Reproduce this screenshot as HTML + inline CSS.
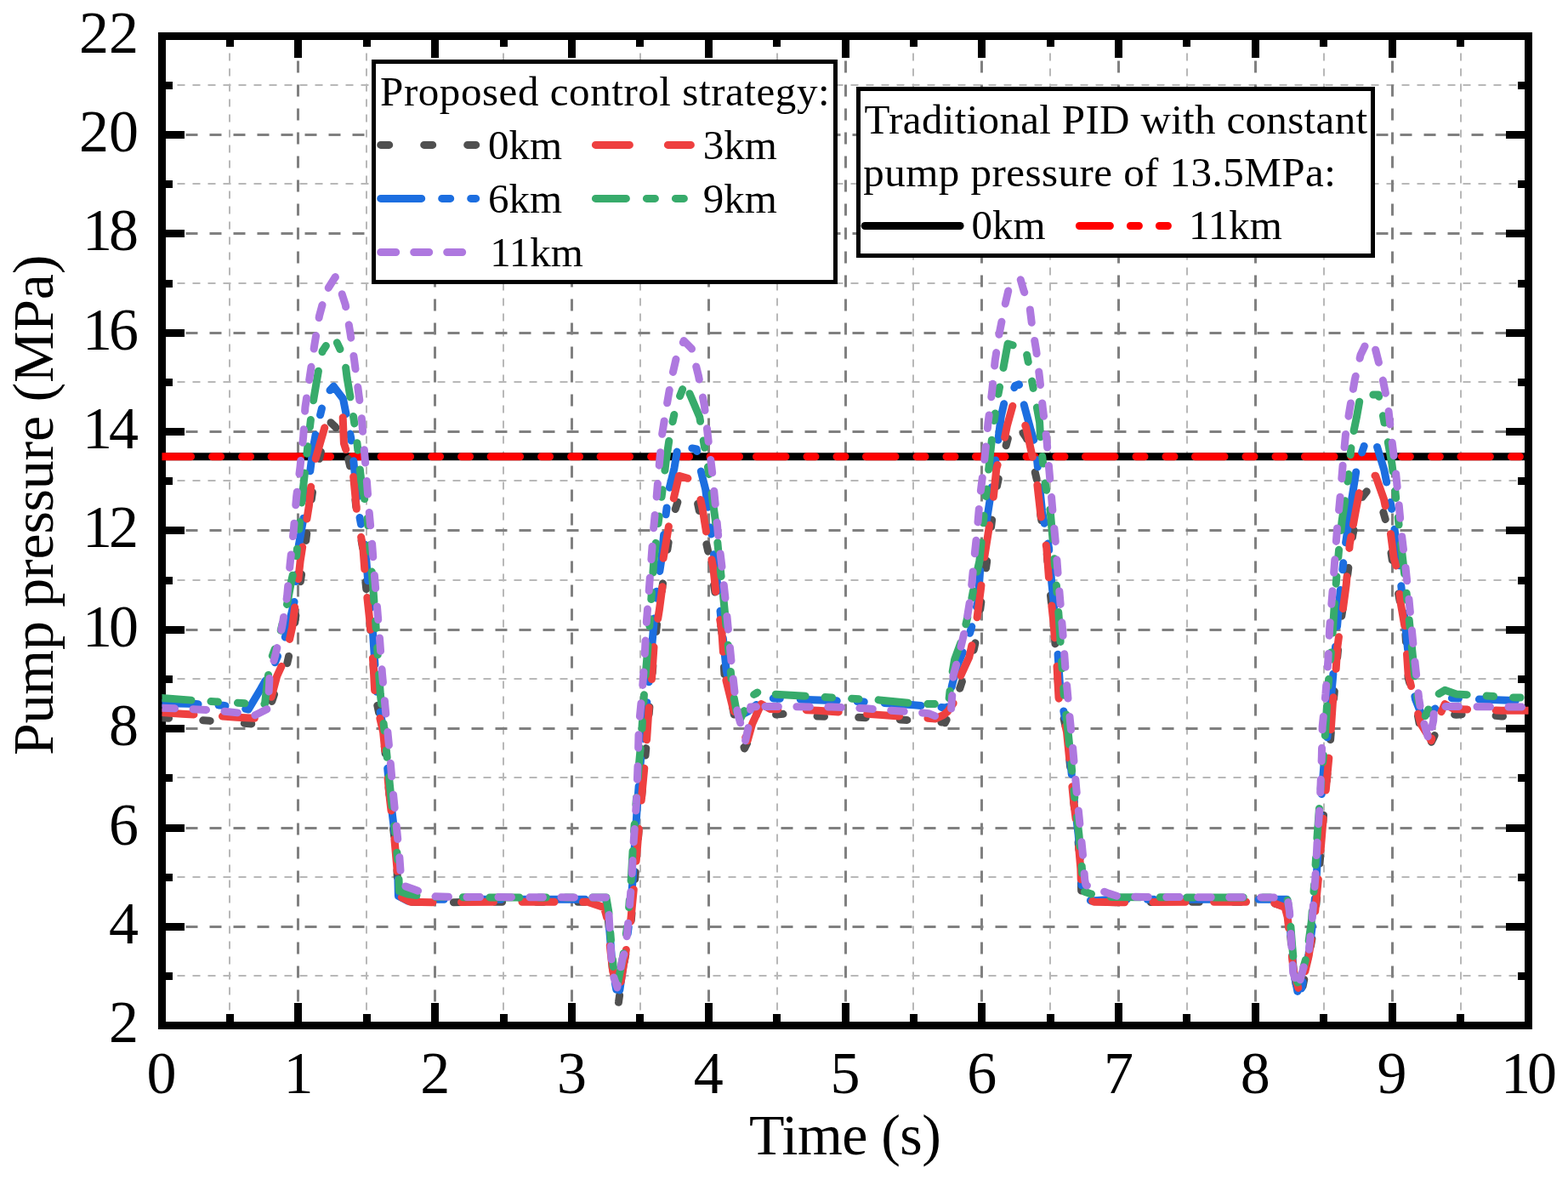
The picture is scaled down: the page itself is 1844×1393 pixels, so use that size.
<!DOCTYPE html>
<html><head><meta charset="utf-8"><title>Pump pressure</title>
<style>
html,body{margin:0;padding:0;background:#fff;width:1844px;height:1393px;overflow:hidden}
svg{display:block}
.tl{font-family:'Liberation Serif','Times New Roman',serif;font-size:70px;fill:#000}
.tt{font-family:'Liberation Serif','Times New Roman',serif;font-size:68px;fill:#000}
.lg{font-family:'Liberation Serif','Times New Roman',serif;font-size:49px;fill:#000}
</style></head><body>
<svg width="1844" height="1393" viewBox="0 0 1844 1393">
<rect width="1844" height="1393" fill="#fff"/>
<g id="grid">
<line x1="270" y1="1205.5" x2="270" y2="42.5" stroke="#b8b8b8" stroke-width="2" stroke-dasharray="9 9"/>
<line x1="431" y1="1205.5" x2="431" y2="42.5" stroke="#b8b8b8" stroke-width="2" stroke-dasharray="9 9"/>
<line x1="592" y1="1205.5" x2="592" y2="42.5" stroke="#b8b8b8" stroke-width="2" stroke-dasharray="9 9"/>
<line x1="753" y1="1205.5" x2="753" y2="42.5" stroke="#b8b8b8" stroke-width="2" stroke-dasharray="9 9"/>
<line x1="914" y1="1205.5" x2="914" y2="42.5" stroke="#b8b8b8" stroke-width="2" stroke-dasharray="9 9"/>
<line x1="1074" y1="1205.5" x2="1074" y2="42.5" stroke="#b8b8b8" stroke-width="2" stroke-dasharray="9 9"/>
<line x1="1235" y1="1205.5" x2="1235" y2="42.5" stroke="#b8b8b8" stroke-width="2" stroke-dasharray="9 9"/>
<line x1="1396" y1="1205.5" x2="1396" y2="42.5" stroke="#b8b8b8" stroke-width="2" stroke-dasharray="9 9"/>
<line x1="1557" y1="1205.5" x2="1557" y2="42.5" stroke="#b8b8b8" stroke-width="2" stroke-dasharray="9 9"/>
<line x1="1718" y1="1205.5" x2="1718" y2="42.5" stroke="#b8b8b8" stroke-width="2" stroke-dasharray="9 9"/>
<line x1="190.5" y1="1147" x2="1797.5" y2="1147" stroke="#b8b8b8" stroke-width="2" stroke-dasharray="9 9"/>
<line x1="190.5" y1="1031" x2="1797.5" y2="1031" stroke="#b8b8b8" stroke-width="2" stroke-dasharray="9 9"/>
<line x1="190.5" y1="914" x2="1797.5" y2="914" stroke="#b8b8b8" stroke-width="2" stroke-dasharray="9 9"/>
<line x1="190.5" y1="798" x2="1797.5" y2="798" stroke="#b8b8b8" stroke-width="2" stroke-dasharray="9 9"/>
<line x1="190.5" y1="682" x2="1797.5" y2="682" stroke="#b8b8b8" stroke-width="2" stroke-dasharray="9 9"/>
<line x1="190.5" y1="565" x2="1797.5" y2="565" stroke="#b8b8b8" stroke-width="2" stroke-dasharray="9 9"/>
<line x1="190.5" y1="449" x2="1797.5" y2="449" stroke="#b8b8b8" stroke-width="2" stroke-dasharray="9 9"/>
<line x1="190.5" y1="333" x2="1797.5" y2="333" stroke="#b8b8b8" stroke-width="2" stroke-dasharray="9 9"/>
<line x1="190.5" y1="216" x2="1797.5" y2="216" stroke="#b8b8b8" stroke-width="2" stroke-dasharray="9 9"/>
<line x1="190.5" y1="100" x2="1797.5" y2="100" stroke="#b8b8b8" stroke-width="2" stroke-dasharray="9 9"/>
<line x1="350.5" y1="1205.5" x2="350.5" y2="42.5" stroke="#808080" stroke-width="3" stroke-dasharray="14 14"/>
<line x1="511.5" y1="1205.5" x2="511.5" y2="42.5" stroke="#808080" stroke-width="3" stroke-dasharray="14 14"/>
<line x1="672.5" y1="1205.5" x2="672.5" y2="42.5" stroke="#808080" stroke-width="3" stroke-dasharray="14 14"/>
<line x1="833.5" y1="1205.5" x2="833.5" y2="42.5" stroke="#808080" stroke-width="3" stroke-dasharray="14 14"/>
<line x1="994.5" y1="1205.5" x2="994.5" y2="42.5" stroke="#808080" stroke-width="3" stroke-dasharray="14 14"/>
<line x1="1154.5" y1="1205.5" x2="1154.5" y2="42.5" stroke="#808080" stroke-width="3" stroke-dasharray="14 14"/>
<line x1="1315.5" y1="1205.5" x2="1315.5" y2="42.5" stroke="#808080" stroke-width="3" stroke-dasharray="14 14"/>
<line x1="1476.5" y1="1205.5" x2="1476.5" y2="42.5" stroke="#808080" stroke-width="3" stroke-dasharray="14 14"/>
<line x1="1637.5" y1="1205.5" x2="1637.5" y2="42.5" stroke="#808080" stroke-width="3" stroke-dasharray="14 14"/>
<line x1="190.5" y1="1089.5" x2="1797.5" y2="1089.5" stroke="#808080" stroke-width="3" stroke-dasharray="14 14"/>
<line x1="190.5" y1="973.5" x2="1797.5" y2="973.5" stroke="#808080" stroke-width="3" stroke-dasharray="14 14"/>
<line x1="190.5" y1="856.5" x2="1797.5" y2="856.5" stroke="#808080" stroke-width="3" stroke-dasharray="14 14"/>
<line x1="190.5" y1="740.5" x2="1797.5" y2="740.5" stroke="#808080" stroke-width="3" stroke-dasharray="14 14"/>
<line x1="190.5" y1="623.5" x2="1797.5" y2="623.5" stroke="#808080" stroke-width="3" stroke-dasharray="14 14"/>
<line x1="190.5" y1="507.5" x2="1797.5" y2="507.5" stroke="#808080" stroke-width="3" stroke-dasharray="14 14"/>
<line x1="190.5" y1="391.5" x2="1797.5" y2="391.5" stroke="#808080" stroke-width="3" stroke-dasharray="14 14"/>
<line x1="190.5" y1="274.5" x2="1797.5" y2="274.5" stroke="#808080" stroke-width="3" stroke-dasharray="14 14"/>
<line x1="190.5" y1="158.5" x2="1797.5" y2="158.5" stroke="#808080" stroke-width="3" stroke-dasharray="14 14"/>
</g>
<g id="frame">
<rect x="186" y="1179" width="9" height="24" fill="#000"/>
<rect x="186" y="45" width="9" height="23" fill="#000"/>
<rect x="346" y="1179" width="9" height="24" fill="#000"/>
<rect x="346" y="45" width="9" height="23" fill="#000"/>
<rect x="507" y="1179" width="9" height="24" fill="#000"/>
<rect x="507" y="45" width="9" height="23" fill="#000"/>
<rect x="668" y="1179" width="9" height="24" fill="#000"/>
<rect x="668" y="45" width="9" height="23" fill="#000"/>
<rect x="829" y="1179" width="9" height="24" fill="#000"/>
<rect x="829" y="45" width="9" height="23" fill="#000"/>
<rect x="990" y="1179" width="9" height="24" fill="#000"/>
<rect x="990" y="45" width="9" height="23" fill="#000"/>
<rect x="1150" y="1179" width="9" height="24" fill="#000"/>
<rect x="1150" y="45" width="9" height="23" fill="#000"/>
<rect x="1311" y="1179" width="9" height="24" fill="#000"/>
<rect x="1311" y="45" width="9" height="23" fill="#000"/>
<rect x="1472" y="1179" width="9" height="24" fill="#000"/>
<rect x="1472" y="45" width="9" height="23" fill="#000"/>
<rect x="1633" y="1179" width="9" height="24" fill="#000"/>
<rect x="1633" y="45" width="9" height="23" fill="#000"/>
<rect x="1793" y="1179" width="9" height="24" fill="#000"/>
<rect x="1793" y="45" width="9" height="23" fill="#000"/>
<rect x="266" y="1192" width="9" height="11" fill="#000"/>
<rect x="266" y="45" width="9" height="10" fill="#000"/>
<rect x="427" y="1192" width="9" height="11" fill="#000"/>
<rect x="427" y="45" width="9" height="10" fill="#000"/>
<rect x="588" y="1192" width="9" height="11" fill="#000"/>
<rect x="588" y="45" width="9" height="10" fill="#000"/>
<rect x="748" y="1192" width="9" height="11" fill="#000"/>
<rect x="748" y="45" width="9" height="10" fill="#000"/>
<rect x="909" y="1192" width="9" height="11" fill="#000"/>
<rect x="909" y="45" width="9" height="10" fill="#000"/>
<rect x="1070" y="1192" width="9" height="11" fill="#000"/>
<rect x="1070" y="45" width="9" height="10" fill="#000"/>
<rect x="1231" y="1192" width="9" height="11" fill="#000"/>
<rect x="1231" y="45" width="9" height="10" fill="#000"/>
<rect x="1391" y="1192" width="9" height="11" fill="#000"/>
<rect x="1391" y="45" width="9" height="10" fill="#000"/>
<rect x="1552" y="1192" width="9" height="11" fill="#000"/>
<rect x="1552" y="45" width="9" height="10" fill="#000"/>
<rect x="1713" y="1192" width="9" height="11" fill="#000"/>
<rect x="1713" y="45" width="9" height="10" fill="#000"/>
<rect x="193" y="1201" width="24" height="9" fill="#000"/>
<rect x="1771" y="1201" width="24" height="9" fill="#000"/>
<rect x="193" y="1085" width="24" height="9" fill="#000"/>
<rect x="1771" y="1085" width="24" height="9" fill="#000"/>
<rect x="193" y="969" width="24" height="9" fill="#000"/>
<rect x="1771" y="969" width="24" height="9" fill="#000"/>
<rect x="193" y="852" width="24" height="9" fill="#000"/>
<rect x="1771" y="852" width="24" height="9" fill="#000"/>
<rect x="193" y="736" width="24" height="9" fill="#000"/>
<rect x="1771" y="736" width="24" height="9" fill="#000"/>
<rect x="193" y="619" width="24" height="9" fill="#000"/>
<rect x="1771" y="619" width="24" height="9" fill="#000"/>
<rect x="193" y="503" width="24" height="9" fill="#000"/>
<rect x="1771" y="503" width="24" height="9" fill="#000"/>
<rect x="193" y="387" width="24" height="9" fill="#000"/>
<rect x="1771" y="387" width="24" height="9" fill="#000"/>
<rect x="193" y="270" width="24" height="9" fill="#000"/>
<rect x="1771" y="270" width="24" height="9" fill="#000"/>
<rect x="193" y="154" width="24" height="9" fill="#000"/>
<rect x="1771" y="154" width="24" height="9" fill="#000"/>
<rect x="193" y="38" width="24" height="9" fill="#000"/>
<rect x="1771" y="38" width="24" height="9" fill="#000"/>
<rect x="193" y="1143" width="10" height="9" fill="#000"/>
<rect x="1785" y="1143" width="10" height="9" fill="#000"/>
<rect x="193" y="1027" width="10" height="9" fill="#000"/>
<rect x="1785" y="1027" width="10" height="9" fill="#000"/>
<rect x="193" y="910" width="10" height="9" fill="#000"/>
<rect x="1785" y="910" width="10" height="9" fill="#000"/>
<rect x="193" y="794" width="10" height="9" fill="#000"/>
<rect x="1785" y="794" width="10" height="9" fill="#000"/>
<rect x="193" y="678" width="10" height="9" fill="#000"/>
<rect x="1785" y="678" width="10" height="9" fill="#000"/>
<rect x="193" y="561" width="10" height="9" fill="#000"/>
<rect x="1785" y="561" width="10" height="9" fill="#000"/>
<rect x="193" y="445" width="10" height="9" fill="#000"/>
<rect x="1785" y="445" width="10" height="9" fill="#000"/>
<rect x="193" y="329" width="10" height="9" fill="#000"/>
<rect x="1785" y="329" width="10" height="9" fill="#000"/>
<rect x="193" y="212" width="10" height="9" fill="#000"/>
<rect x="1785" y="212" width="10" height="9" fill="#000"/>
<rect x="193" y="96" width="10" height="9" fill="#000"/>
<rect x="1785" y="96" width="10" height="9" fill="#000"/>
<rect x="190.5" y="42.5" width="1607" height="1163" fill="none" stroke="#000" stroke-width="9"/>
<text x="163" y="1225.18" text-anchor="end" class="tl">2</text>
<text x="163" y="1108.84" text-anchor="end" class="tl">4</text>
<text x="163" y="992.50" text-anchor="end" class="tl">6</text>
<text x="163" y="876.16" text-anchor="end" class="tl">8</text>
<text x="163" y="759.82" text-anchor="end" class="tl">1<tspan dx="-4">0</tspan></text>
<text x="163" y="643.48" text-anchor="end" class="tl">1<tspan dx="-4">2</tspan></text>
<text x="163" y="527.14" text-anchor="end" class="tl">1<tspan dx="-4">4</tspan></text>
<text x="163" y="410.80" text-anchor="end" class="tl">1<tspan dx="-4">6</tspan></text>
<text x="163" y="294.46" text-anchor="end" class="tl">1<tspan dx="-4">8</tspan></text>
<text x="163" y="178.12" text-anchor="end" class="tl">20</text>
<text x="163" y="61.78" text-anchor="end" class="tl">22</text>
<text x="190.10" y="1284.5" text-anchor="middle" class="tl">0</text>
<text x="350.88" y="1284.5" text-anchor="middle" class="tl">1</text>
<text x="511.66" y="1284.5" text-anchor="middle" class="tl">2</text>
<text x="672.44" y="1284.5" text-anchor="middle" class="tl">3</text>
<text x="833.22" y="1284.5" text-anchor="middle" class="tl">4</text>
<text x="994.00" y="1284.5" text-anchor="middle" class="tl">5</text>
<text x="1154.78" y="1284.5" text-anchor="middle" class="tl">6</text>
<text x="1315.56" y="1284.5" text-anchor="middle" class="tl">7</text>
<text x="1476.34" y="1284.5" text-anchor="middle" class="tl">8</text>
<text x="1637.12" y="1284.5" text-anchor="middle" class="tl">9</text>
<text x="1797.90" y="1284.5" text-anchor="middle" class="tl">1<tspan dx="-4">0</tspan></text>
<text x="881" y="1357" class="tt" textLength="225.9" lengthAdjust="spacing">Time (s)</text>
<text transform="translate(62,888) rotate(-90)" class="tt" textLength="588.3" lengthAdjust="spacing">Pump pressure (MPa)</text>
</g>
<defs><clipPath id="pc"><rect x="190.5" y="42.5" width="1607" height="1163"/></clipPath></defs>
<g id="data" clip-path="url(#pc)">
<line x1="190.1" y1="536.73" x2="1797.8999999999999" y2="536.73" stroke="#000" stroke-width="9" stroke-linecap="round"/>
<line x1="190.10" y1="536.73" x2="889.49" y2="536.73" stroke="#ff0000" stroke-width="9" stroke-linecap="round" stroke-dasharray="34.5 25 10 25 10 24.5"/>
<line x1="889.49" y1="536.73" x2="1588.89" y2="536.73" stroke="#ff0000" stroke-width="9" stroke-linecap="round" stroke-dasharray="34.5 25 10 25 10 24.5"/>
<line x1="1588.89" y1="536.73" x2="1797.90" y2="536.73" stroke="#ff0000" stroke-width="9" stroke-linecap="round" stroke-dasharray="34.5 25 10 25 10 24.5"/>
<polyline points="190.10,843.86 214.22,845.03 246.37,847.35 278.53,849.68 302.65,851.42 307.47,849.68 318.72,827.58 329.98,793.84 336.41,785.69 344.45,749.63 350.56,703.09 356.51,661.79 362.62,611.76 368.73,570.46 378.37,526.84 387.06,494.84 394.29,501.82 403.46,515.20 410.37,542.54 415.19,562.90 420.02,606.53 426.93,646.08 429.98,685.06 434.97,731.01 438.99,781.04 441.72,820.01 450.56,860.15 454.58,900.29 458.60,941.01 463.43,981.14 466.96,1021.28 467.93,1052.69 482.72,1060.26 511.66,1060.84 592.05,1060.26 688.52,1060.26 708.62,1064.91 714.56,1071.89 720.67,1141.69 727.43,1178.34 734.34,1130.06 741.58,1089.34 746.40,1036.99 752.83,955.55 760.71,869.46 768.10,779.88 772.77,731.59 778.39,694.37 784.02,651.32 790.45,610.02 801.06,577.44 819.23,585.59 827.27,623.98 835.15,658.88 843.19,711.24 848.65,740.32 852.19,796.74 861.20,829.32 865.38,850.84 875.51,879.93 881.45,868.29 889.49,851.05" fill="none" stroke="#505050" stroke-width="9" stroke-linecap="round" stroke-linejoin="round" stroke-dasharray="8.5 40.2"/>
<polyline points="889.49,851.05 895.28,838.63 908.79,840.37 929.69,838.63 961.84,842.12 1010.08,843.28 1063.14,846.19 1109.76,849.10 1111.37,849.68 1122.62,827.58 1133.88,793.84 1140.31,785.69 1148.35,749.63 1154.46,703.09 1160.41,661.79 1166.52,611.76 1172.63,570.46 1182.27,526.84 1190.96,494.84 1198.19,501.82 1207.36,515.20 1214.27,542.54 1219.09,562.90 1223.92,606.53 1230.83,646.08 1233.88,685.06 1238.87,731.01 1242.89,781.04 1245.62,820.01 1254.46,860.15 1258.48,900.29 1262.50,941.01 1267.33,981.14 1270.86,1021.28 1271.83,1052.69 1286.62,1060.26 1315.56,1060.84 1395.95,1060.26 1492.42,1060.26 1509.30,1064.91 1515.25,1071.89 1521.36,1141.69 1528.11,1178.34 1538.24,1130.06 1545.48,1089.34 1550.30,1036.99 1556.73,955.55 1564.61,869.46 1572.00,779.88 1576.67,731.59 1582.29,694.37 1588.89,644.02" fill="none" stroke="#505050" stroke-width="9" stroke-linecap="round" stroke-linejoin="round" stroke-dasharray="8.5 40.2" stroke-dashoffset="17.6"/>
<polyline points="1588.89,644.02 1590.98,628.05 1600.14,586.75 1609.79,574.54 1619.59,577.44 1631.17,617.00 1637.92,662.95 1647.09,711.24 1652.55,740.32 1656.09,796.74 1665.10,829.32 1669.28,850.84 1679.41,879.93 1685.35,868.29 1699.18,838.63 1712.69,840.37 1733.59,838.63 1765.74,842.12 1801.12,842.12" fill="none" stroke="#505050" stroke-width="9" stroke-linecap="round" stroke-linejoin="round" stroke-dasharray="8.5 40.2" stroke-dashoffset="36.0"/>
<polyline points="190.10,826.41 230.29,827.58 262.45,829.32 292.20,833.97 306.83,809.54 321.30,783.95 334.16,753.12 340.11,732.18 346.22,706.58 348.63,672.26 351.36,640.85 356.51,611.76 361.81,577.44 367.92,528.58 371.62,508.22 382.07,465.18 392.36,454.12 403.46,468.67 412.78,515.20 415.84,542.54 421.62,600.71 429.66,644.34 432.88,685.06 437.70,731.01 440.92,781.04 443.33,815.94 451.37,860.15 455.39,900.29 459.41,941.01 464.23,981.14 467.61,1021.28 468.41,1053.27 479.50,1059.09 503.62,1057.35 592.05,1057.35 712.63,1057.35 715.05,1071.89 720.67,1141.69 727.11,1175.43 735.14,1121.33 740.77,1077.71 744.31,1031.17 746.72,988.12 749.61,944.50 753.63,891.56 756.05,877.02 763.44,798.49 768.10,742.65 772.12,696.11 777.75,658.88 782.41,610.02 786.92,575.12 793.02,550.10 797.37,523.93 819.23,528.00 822.77,547.78 829.68,575.12 834.18,610.02 837.56,635.03 844.47,693.78 849.30,740.32 854.12,786.86 860.55,821.76 868.59,842.12 879.85,836.30 889.49,828.45" fill="none" stroke="#1c6ee0" stroke-width="9" stroke-linecap="round" stroke-linejoin="round" stroke-dasharray="43 24 8 24"/>
<polyline points="889.49,828.45 899.14,820.59 977.92,823.50 1010.08,824.67 1074.39,828.74 1109.76,831.65 1113.78,832.23 1119.89,804.31 1125.20,783.95 1138.06,753.12 1144.01,732.18 1150.12,706.58 1152.53,672.26 1155.26,640.85 1160.41,611.76 1165.71,577.44 1172.14,530.91 1177.29,489.61 1182.43,466.92 1190.79,461.10 1193.69,453.54 1198.35,451.80 1204.78,477.97 1212.34,505.89 1217.97,524.51 1219.74,542.54 1225.52,600.71 1233.56,644.34 1236.78,685.06 1241.60,731.01 1244.82,781.04 1247.23,815.94 1255.27,860.15 1259.29,900.29 1263.31,941.01 1268.13,981.14 1271.51,1021.28 1272.31,1053.27 1283.40,1059.09 1307.52,1057.35 1395.95,1057.35 1513.32,1057.35 1515.73,1071.89 1521.36,1141.69 1527.79,1175.43 1539.04,1121.33 1544.67,1077.71 1548.21,1031.17 1550.62,988.12 1553.51,944.50 1557.53,891.56 1559.95,877.02 1567.34,798.49 1572.00,742.65 1576.02,696.11 1581.65,644.34 1586.31,612.35 1588.89,592.85" fill="none" stroke="#1c6ee0" stroke-width="9" stroke-linecap="round" stroke-linejoin="round" stroke-dasharray="43 24 8 24" stroke-dashoffset="44.4"/>
<polyline points="1588.89,592.85 1589.69,586.75 1595.48,550.10 1604.96,522.18 1609.31,518.11 1617.34,518.11 1627.79,552.43 1632.30,575.12 1636.96,600.13 1641.46,632.71 1644.84,662.37 1648.37,693.78 1653.20,740.32 1658.02,786.86 1664.45,821.76 1672.49,842.12 1683.75,836.30 1703.04,820.59 1781.82,823.50 1801.12,823.50" fill="none" stroke="#1c6ee0" stroke-width="9" stroke-linecap="round" stroke-linejoin="round" stroke-dasharray="43 24 8 24" stroke-dashoffset="4.6"/>
<polyline points="190.10,837.46 214.22,839.21 246.37,840.95 278.53,843.28 301.04,844.44 310.69,836.30 317.12,826.99 325.64,795.00 335.93,772.31 343.64,737.41 349.75,690.88 353.13,659.46 360.04,615.25 363.42,594.31 367.92,550.69 376.44,521.02 385.77,489.03 403.13,489.03 404.42,521.02 410.37,539.63 414.87,551.85 419.85,604.20 426.93,644.34 429.98,685.06 434.97,731.01 438.99,781.04 441.08,820.01 450.56,860.15 454.58,900.29 458.60,941.01 463.43,981.14 466.96,1021.28 467.93,1052.69 482.72,1060.26 511.66,1060.84 592.05,1060.26 690.93,1060.26 710.38,1066.65 713.44,1077.71 720.67,1141.69 727.91,1167.87 735.14,1124.24 741.58,1083.52 746.40,1034.08 752.83,955.55 759.74,882.25 763.44,826.41 766.34,800.24 769.07,759.52 771.96,738.57 775.34,717.05 779.36,686.80 780.16,655.97 785.95,621.65 790.45,593.73 798.49,559.41 819.23,565.23 826.15,598.39 830.65,625.73 838.85,667.61 843.19,708.33 848.65,739.74 852.19,792.67 861.20,829.32 866.98,850.84 879.20,870.62 884.67,850.84 889.49,840.27" fill="none" stroke="#ee4040" stroke-width="9" stroke-linecap="round" stroke-linejoin="round" stroke-dasharray="38 33.5"/>
<polyline points="889.49,840.27 895.28,827.58 905.57,833.39 961.84,835.14 1034.19,840.37 1059.92,842.12 1100.11,845.03 1109.76,840.37 1114.59,836.30 1121.02,826.99 1129.54,795.00 1139.83,772.31 1147.54,737.41 1153.65,690.88 1157.03,659.46 1163.94,615.25 1167.32,594.31 1171.82,550.69 1178.74,528.58 1184.36,500.66 1191.76,473.90 1198.99,484.37 1206.71,502.40 1212.34,528.58 1217.97,553.01 1223.75,604.20 1230.83,644.34 1233.88,685.06 1238.87,731.01 1242.89,781.04 1244.98,820.01 1254.46,860.15 1258.48,900.29 1262.50,941.01 1267.33,981.14 1270.86,1021.28 1271.83,1052.69 1286.62,1060.26 1315.56,1060.84 1395.95,1060.26 1494.83,1060.26 1511.07,1066.65 1514.12,1077.71 1521.36,1141.69 1528.59,1167.87 1539.04,1124.24 1545.48,1083.52 1550.30,1034.08 1556.73,955.55 1563.64,882.25 1567.34,826.41 1570.24,800.24 1572.97,759.52 1575.86,738.57 1579.24,717.05 1583.26,686.80 1587.28,639.69 1588.89,630.83" fill="none" stroke="#ee4040" stroke-width="9" stroke-linecap="round" stroke-linejoin="round" stroke-dasharray="38 33.5" stroke-dashoffset="3.0"/>
<polyline points="1588.89,630.83 1594.35,600.71 1600.14,570.46 1609.31,557.08 1617.83,559.41 1627.47,586.75 1634.71,621.65 1639.21,655.97 1642.75,667.61 1647.09,708.33 1652.55,739.74 1656.09,792.67 1665.10,829.32 1670.88,850.84 1683.10,870.62 1688.57,850.84 1699.18,827.58 1709.47,833.39 1765.74,835.14 1801.12,835.14" fill="none" stroke="#ee4040" stroke-width="9" stroke-linecap="round" stroke-linejoin="round" stroke-dasharray="38 33.5" stroke-dashoffset="57.4"/>
<polyline points="190.10,820.59 230.29,823.50 270.49,825.83 302.65,827.58 311.49,827.58 314.70,798.49 318.72,775.22 328.37,749.05 338.02,708.33 342.84,682.15 347.99,659.46 351.36,625.73 355.70,580.93 363.26,511.71 366.15,487.28 368.89,468.67 374.35,436.67 379.18,412.82 390.27,395.95 393.17,395.95 405.38,422.13 408.12,444.23 413.58,476.23 419.37,515.20 424.84,565.81 431.27,600.71 435.29,647.25 438.51,687.97 441.72,731.01 444.94,781.04 447.35,815.94 452.17,860.15 456.19,900.29 460.21,941.01 465.03,981.14 468.57,1021.28 469.54,1047.46 479.50,1050.95 503.62,1054.44 592.05,1055.02 712.96,1055.02 715.85,1071.89 719.07,1112.61 722.28,1147.51 726.30,1156.82 732.73,1124.24 738.36,1083.52 742.38,1031.17 744.79,988.12 748.01,944.50 751.22,901.45 754.12,869.46 757.97,807.80 763.28,744.39 766.01,701.35 768.91,658.88 773.25,621.65 777.75,586.75 783.38,540.80 788.20,508.80 795.12,476.81 805.89,449.47 810.07,460.52 822.77,490.19 827.27,518.11 834.18,559.41 841.10,610.02 844.47,644.34 849.30,687.97 853.32,728.69 857.34,769.41 861.36,810.12 866.18,836.30 871.00,844.44 882.74,818.85 889.49,814.78" fill="none" stroke="#37ab6b" stroke-width="9" stroke-linecap="round" stroke-linejoin="round" stroke-dasharray="35 23 8.5 23 8.5 23"/>
<polyline points="889.49,814.78 895.28,811.29 908.79,815.94 977.92,820.01 1034.19,822.92 1082.43,827.58 1106.55,827.58 1115.39,827.58 1118.60,798.49 1122.62,775.22 1132.27,749.05 1141.92,708.33 1146.74,682.15 1151.89,659.46 1155.26,625.73 1159.60,580.93 1167.48,506.48 1172.14,472.74 1180.50,429.69 1185.17,404.10 1206.23,409.91 1210.41,431.44 1216.04,461.10 1222.63,496.59 1223.59,515.20 1228.74,565.81 1235.17,600.71 1239.19,647.25 1242.41,687.97 1245.62,731.01 1248.84,781.04 1251.25,815.94 1256.07,860.15 1260.09,900.29 1264.11,941.01 1268.93,981.14 1272.47,1021.28 1273.44,1047.46 1283.40,1050.95 1307.52,1054.44 1395.95,1055.02 1513.64,1055.02 1516.53,1071.89 1519.75,1112.61 1522.97,1147.51 1526.99,1156.82 1536.63,1124.24 1542.26,1083.52 1546.28,1031.17 1548.69,988.12 1551.91,944.50 1555.12,901.45 1558.02,869.46 1561.87,807.80 1567.18,744.39 1569.91,701.35 1574.74,644.34 1578.11,612.35 1582.78,582.10 1586.31,554.76 1588.89,526.84" fill="none" stroke="#37ab6b" stroke-width="9" stroke-linecap="round" stroke-linejoin="round" stroke-dasharray="35 23 8.5 23 8.5 23" stroke-dashoffset="96.5"/>
<polyline points="1588.89,526.84 1589.69,518.11 1595.48,490.19 1600.14,464.01 1621.04,464.01 1625.38,483.21 1631.17,513.46 1636.96,545.45 1640.34,572.79 1644.84,614.67 1649.50,655.97 1653.20,687.97 1657.22,728.69 1661.24,769.41 1665.26,810.12 1670.08,836.30 1674.90,844.44 1686.64,818.85 1699.18,811.29 1712.69,815.94 1781.82,820.01 1801.12,820.01" fill="none" stroke="#37ab6b" stroke-width="9" stroke-linecap="round" stroke-linejoin="round" stroke-dasharray="35 23 8.5 23 8.5 23" stroke-dashoffset="100.4"/>
<polyline points="190.10,832.23 222.26,833.39 254.41,835.14 286.57,838.63 297.02,842.12 314.70,833.39 315.99,815.94 317.12,794.42 323.71,770.57 331.59,737.41 337.54,701.35 341.07,663.54 345.25,623.98 348.63,583.84 352.97,548.94 356.67,513.46 358.92,478.56 365.19,436.67 369.85,405.26 375.48,371.52 383.04,343.60 394.29,325.57 399.11,336.04 406.35,358.72 411.98,391.88 416.48,422.13 421.14,457.61 425.00,487.28 427.73,521.02 430.95,559.99 433.84,598.39 437.54,638.52 440.43,676.91 443.65,715.31 446.70,753.12 449.44,791.51 453.78,839.21 457.80,879.93 461.82,926.46 465.84,967.18 469.86,1007.90 471.79,1034.08 473.07,1040.48 487.54,1045.71 500.41,1050.37 511.66,1053.86 543.82,1054.44 713.44,1055.02 715.85,1071.89 717.94,1107.95 720.03,1143.44 725.82,1160.89 731.93,1127.15 735.47,1117.26 739.81,1074.22 743.02,1031.17 745.27,988.12 748.33,944.50 750.42,889.82 751.22,854.33 755.08,815.36 757.97,776.39 759.74,738.57 762.96,697.86 765.69,660.63 768.59,621.65 772.12,584.42 775.34,545.45 778.55,511.13 783.38,480.88 789.33,446.56 796.24,416.89 804.28,400.61 813.44,409.91 821.48,441.91 828.40,476.81 833.06,518.11 837.56,554.76 841.10,591.40 844.47,628.05 849.14,667.61 853.16,705.42 856.69,743.23 860.39,781.04 864.73,820.59 867.47,838.63 876.63,870.62 881.78,847.35 882.74,831.07 889.49,830.80" fill="none" stroke="#ae78df" stroke-width="9" stroke-linecap="round" stroke-linejoin="round" stroke-dasharray="15.5 21.5"/>
<polyline points="889.49,830.80 897.53,830.48 977.92,831.07 1018.12,832.81 1055.10,835.72 1092.08,838.63 1100.92,842.12 1118.60,833.39 1119.89,815.94 1121.02,794.42 1127.61,770.57 1135.49,737.41 1141.44,701.35 1144.97,663.54 1149.15,623.98 1152.53,583.84 1156.87,548.94 1160.57,513.46 1161.85,498.33 1166.52,461.10 1170.21,423.88 1174.88,393.63 1181.47,360.47 1187.10,336.04 1200.12,328.48 1203.98,341.86 1210.41,356.40 1213.30,379.67 1218.77,412.82 1222.63,444.23 1226.33,479.72 1230.99,517.53 1233.88,553.01 1237.74,598.39 1241.44,638.52 1244.33,676.91 1247.55,715.31 1250.60,753.12 1253.34,791.51 1257.68,839.21 1261.70,879.93 1265.72,926.46 1269.74,967.18 1273.76,1007.90 1275.69,1034.08 1276.97,1040.48 1291.44,1045.71 1304.31,1050.37 1315.56,1053.86 1347.72,1054.44 1514.12,1055.02 1516.53,1071.89 1518.63,1107.95 1520.72,1143.44 1526.50,1160.89 1535.83,1127.15 1539.37,1117.26 1543.71,1074.22 1546.92,1031.17 1549.17,988.12 1552.23,944.50 1554.32,889.82 1555.12,854.33 1558.98,815.36 1561.87,776.39 1563.64,738.57 1566.86,697.86 1569.59,660.63 1572.49,621.65 1576.02,584.42 1579.24,545.45 1582.45,511.13 1587.28,480.88 1588.89,471.61" fill="none" stroke="#ae78df" stroke-width="9" stroke-linecap="round" stroke-linejoin="round" stroke-dasharray="15.5 21.5" stroke-dashoffset="26.6"/>
<polyline points="1588.89,471.61 1593.23,446.56 1600.14,416.89 1608.18,400.61 1617.34,409.91 1625.38,441.91 1632.30,476.81 1636.96,518.11 1641.46,554.76 1645.00,591.40 1648.37,628.05 1653.04,667.61 1657.06,705.42 1660.59,743.23 1664.29,781.04 1668.63,820.59 1671.37,838.63 1680.53,870.62 1685.68,847.35 1686.64,831.07 1701.43,830.48 1781.82,831.07 1801.12,831.07" fill="none" stroke="#ae78df" stroke-width="9" stroke-linecap="round" stroke-linejoin="round" stroke-dasharray="15.5 21.5" stroke-dashoffset="22.6"/>
</g>
<g id="legend">
<rect x="439.5" y="72.5" width="543" height="259" fill="#fff" stroke="#000" stroke-width="5"/>
<text x="447.1" y="123.7" class="lg" textLength="528.5" lengthAdjust="spacing">Proposed control strategy:</text>
<line x1="447.7" y1="170.4" x2="559.7" y2="170.4" stroke="#505050" stroke-width="9" stroke-linecap="round" stroke-dasharray="10 41"/>
<text x="574.1" y="187.1" class="lg">0km</text>
<line x1="700.4" y1="170.4" x2="812.4" y2="170.4" stroke="#ee4040" stroke-width="9" stroke-linecap="round" stroke-dasharray="40 45"/>
<text x="826.7" y="186.8" class="lg">3km</text>
<line x1="447.7" y1="233.4" x2="559.7" y2="233.4" stroke="#1c6ee0" stroke-width="9" stroke-linecap="round" stroke-dasharray="48 24 10 24"/>
<text x="574.1" y="249.8" class="lg">6km</text>
<line x1="700.4" y1="233.4" x2="812.4" y2="233.4" stroke="#37ab6b" stroke-width="9" stroke-linecap="round" stroke-dasharray="36 24 10 24 10 24"/>
<text x="826.7" y="249.6" class="lg">9km</text>
<line x1="447.7" y1="296.5" x2="559.7" y2="296.5" stroke="#ae78df" stroke-width="9" stroke-linecap="round" stroke-dasharray="18 21"/>
<text x="576.2" y="313.2" class="lg">11km</text>
<rect x="1009.5" y="104.5" width="605" height="196" fill="#fff" stroke="#000" stroke-width="5"/>
<text x="1016.6" y="156.5" class="lg" textLength="591.5" lengthAdjust="spacing">Traditional PID with constant</text>
<text x="1015.3" y="218.9" class="lg" textLength="555.5" lengthAdjust="spacing">pump pressure of 13.5MPa:</text>
<line x1="1017.1" y1="265.5" x2="1129.1" y2="265.5" stroke="#000" stroke-width="9" stroke-linecap="round"/>
<text x="1142.5" y="281.3" class="lg">0km</text>
<line x1="1269.4" y1="265.5" x2="1381.4" y2="265.5" stroke="#ff0000" stroke-width="9" stroke-linecap="round" stroke-dasharray="36 24 10 24 10 24"/>
<text x="1398.1" y="281.3" class="lg">11km</text>
</g>
</svg>
</body></html>
